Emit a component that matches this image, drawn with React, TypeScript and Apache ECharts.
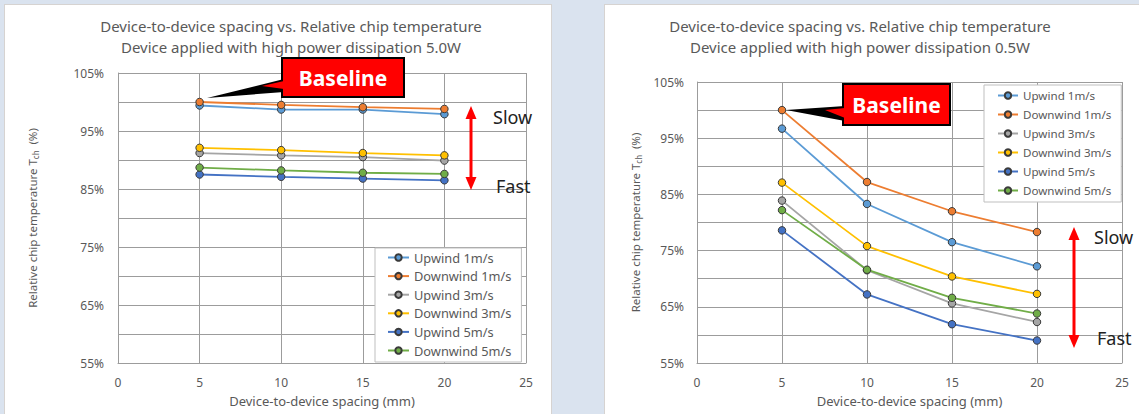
import React, { useEffect, useRef } from "react";
import * as echarts from "echarts";

// ---------- data ----------
const spacing = [5, 10, 15, 20];
const seriesNames = [
  "Upwind 1m/s",
  "Downwind 1m/s",
  "Upwind 3m/s",
  "Downwind 3m/s",
  "Upwind 5m/s",
  "Downwind 5m/s",
];
const seriesColors = ["#5B9BD5", "#ED7D31", "#A5A5A5", "#FFC000", "#4472C4", "#70AD47"];

// 5.0W chart (left)
const w50Upwind1 = [99.4, 98.7, 98.7, 97.9];
const w50Downwind1 = [100, 99.5, 99.1, 98.8];
const w50Upwind3 = [91.2, 90.8, 90.5, 89.9];
const w50Downwind3 = [92.1, 91.7, 91.2, 90.8];
const w50Upwind5 = [87.5, 87.1, 86.8, 86.5];
const w50Downwind5 = [88.7, 88.2, 87.8, 87.6];

// 0.5W chart (right)
const w05Upwind1 = [96.7, 83.3, 76.5, 72.2];
const w05Downwind1 = [100, 87.2, 82.0, 78.3];
const w05Upwind3 = [83.9, 71.5, 65.6, 62.3];
const w05Downwind3 = [87.1, 75.8, 70.4, 67.3];
const w05Upwind5 = [78.6, 67.2, 61.9, 59.0];
const w05Downwind5 = [82.2, 71.6, 66.6, 63.8];

const titleLine1 = "Device-to-device spacing vs. Relative chip temperature";
const titleLeft2 = "Device applied with high power dissipation 5.0W";
const titleRight2 = "Device applied with high power dissipation 0.5W";
const xAxisTitle = "Device-to-device spacing (mm)";
const yAxisTitle = "Relative chip temperature T{sub|ch}\u2002(%)";

const leftSets = [w50Upwind1, w50Downwind1, w50Upwind3, w50Downwind3, w50Upwind5, w50Downwind5];
const rightSets = [w05Upwind1, w05Downwind1, w05Upwind3, w05Downwind3, w05Upwind5, w05Downwind5];

const TEXT = "#595959";
const GRID = "#9c9c9c";
const FONT = "'Noto Sans', 'Noto Sans CJK JP', sans-serif";

function makeSeries(sets: number[][], idx: number) {
  return sets.map((vals, i) => ({
    name: seriesNames[i],
    type: "line",
    xAxisIndex: idx,
    yAxisIndex: idx,
    data: vals.map((v, k) => [spacing[k], v]),
    symbol: "circle",
    symbolSize: 7.5,
    lineStyle: { width: 1.8, color: seriesColors[i] },
    itemStyle: { color: seriesColors[i], borderColor: "#3a3a3a", borderWidth: 1 },
    z: 2 + i,
  }));
}

function xAxis(gridIndex: number) {
  return {
    type: "value",
    gridIndex,
    min: 0,
    max: 25,
    interval: 5,
    name: xAxisTitle,
    nameLocation: "middle",
    nameGap: 31,
    nameTextStyle: { fontSize: 13, color: TEXT, fontFamily: FONT },
    axisLine: { show: true, lineStyle: { color: GRID, width: 1 } },
    axisTick: { show: false },
    axisLabel: { fontSize: 12, color: TEXT, margin: 13, fontFamily: FONT },
    splitLine: { show: true, lineStyle: { color: GRID, width: 1 } },
  };
}

function yAxis(gridIndex: number, nameGap: number, labelMargin: number) {
  return {
    type: "value",
    gridIndex,
    min: 55,
    max: 105,
    interval: 5,
    name: yAxisTitle,
    nameLocation: "middle",
    nameRotate: 90,
    nameGap,
    nameTextStyle: {
      fontSize: 11.5,
      color: TEXT,
      fontFamily: FONT,
      rich: {
        sub: { fontSize: 8, color: TEXT, fontFamily: FONT, verticalAlign: "bottom", padding: [6, 0, 0, 0] },
      },
    },
    axisLine: { show: true, lineStyle: { color: GRID, width: 1 } },
    axisTick: { show: false },
    axisLabel: {
      fontSize: 12,
      color: TEXT,
      margin: labelMargin,
      fontFamily: FONT,
      formatter: (v: number) => ((Math.round(v) - 55) % 10 === 0 ? `${v}%` : ""),
    },
    splitLine: { show: true, lineStyle: { color: GRID, width: 1 } },
  };
}

function callout(bx: number, by: number, bw: number, bh: number, tail: number[][], inner: number[][]) {
  return [
    { type: "polygon", shape: { points: tail }, style: { fill: "#000" }, z: 50 },
    {
      type: "rect",
      shape: { x: bx, y: by, width: bw, height: bh },
      style: { fill: "#ff0000", stroke: "#000", lineWidth: 2 },
      z: 51,
    },
    { type: "polygon", shape: { points: inner }, style: { fill: "#ff0000" }, z: 52 },
    {
      type: "text",
      x: bx + bw / 2,
      y: by + bh / 2,
      style: {
        text: "Baseline",
        fill: "#fff",
        fontSize: 21,
        fontWeight: "bold",
        fontFamily: FONT,
        align: "center",
        verticalAlign: "middle",
      },
      z: 53,
    },
  ];
}

function arrow(x: number, y1: number, y2: number) {
  return [
    { type: "line", shape: { x1: x, y1: y1 + 10, x2: x, y2: y2 - 10 }, style: { stroke: "#ff0000", lineWidth: 3 }, z: 50 },
    { type: "polygon", shape: { points: [[x, y1], [x - 5.5, y1 + 13], [x + 5.5, y1 + 13]] }, style: { fill: "#ff0000" }, z: 50 },
    { type: "polygon", shape: { points: [[x, y2], [x - 5.5, y2 - 13], [x + 5.5, y2 - 13]] }, style: { fill: "#ff0000" }, z: 50 },
  ];
}

function label(text: string, x: number, y: number) {
  return {
    type: "text",
    x,
    y,
    style: { text, fill: "#222", fontSize: 18, fontFamily: FONT, align: "left", verticalAlign: "middle" },
    z: 50,
  };
}

export default function App() {
  const ref = useRef<HTMLDivElement>(null);

  useEffect(() => {
    if (!ref.current) return;
    const chart = echarts.init(ref.current, null, { renderer: "svg" });
    chart.setOption({
      animation: false,
      backgroundColor: "transparent",
      textStyle: { fontFamily: FONT },
      title: [
        {
          text: `${titleLine1}\n${titleLeft2}`,
          left: 291,
          top: 15,
          padding: 0,
          textAlign: "center",
          textStyle: { fontSize: 15, fontWeight: "normal", color: TEXT, lineHeight: 21, fontFamily: FONT },
        },
        {
          text: `${titleLine1}\n${titleRight2}`,
          left: 860,
          top: 15,
          padding: 0,
          textAlign: "center",
          textStyle: { fontSize: 15, fontWeight: "normal", color: TEXT, lineHeight: 21, fontFamily: FONT },
        },
      ],
      grid: [
        { left: 118, top: 73, width: 408, height: 290 },
        { left: 697, top: 82, width: 425, height: 281 },
      ],
      xAxis: [xAxis(0), xAxis(1)],
      yAxis: [yAxis(0, 79, 14), yAxis(1, 55, 13)],
      legend: [
        {
          data: seriesNames,
          orient: "vertical",
          left: 375,
          top: 248,
          padding: [2, 10, 4, 12],
          itemGap: 3.6,
          itemWidth: 21,
          itemHeight: 8,
          backgroundColor: "#fff",
          borderColor: "#bfbfbf",
          borderWidth: 1,
          selectedMode: false,
          textStyle: { fontSize: 12.8, color: TEXT, lineHeight: 15, fontFamily: FONT },
        },
        {
          data: seriesNames,
          orient: "vertical",
          left: 984,
          top: 85,
          padding: [3, 10, 4, 13],
          itemGap: 4,
          itemWidth: 20,
          itemHeight: 8,
          backgroundColor: "#fff",
          borderColor: "#bfbfbf",
          borderWidth: 1,
          selectedMode: false,
          textStyle: { fontSize: 11.6, color: TEXT, lineHeight: 15, fontFamily: FONT },
        },
      ],
      series: [...makeSeries(leftSets, 0), ...makeSeries(rightSets, 1)],
      graphic: [
        ...callout(282, 58, 122, 39, [[207, 98], [284, 79], [284, 92]], [[262, 86], [284, 81], [284, 89]]),
        ...callout(843, 84, 107, 41, [[786, 110], [845, 106], [845, 121]], [[825, 110], [845, 108], [845, 118]]),
        ...arrow(471, 106, 190),
        ...arrow(1074, 227, 348),
        label("Slow", 493, 117),
        label("Fast", 496, 186),
        label("Slow", 1094, 237),
        label("Fast", 1097, 338),
      ],
    });
    return () => chart.dispose();
  }, []);

  return (
    <div style={{ position: "fixed", left: 0, top: 0, width: 1139, height: 414, background: "#dae3ef", overflow: "hidden" }}>
      <div
        style={{ position: "absolute", left: 4, top: 4, width: 548, height: 420, background: "#fff", border: "1px solid #d6d3d1", boxSizing: "border-box" }}
      />
      <div
        style={{ position: "absolute", left: 604, top: 4, width: 545, height: 420, background: "#fff", border: "1px solid #d6d3d1", boxSizing: "border-box" }}
      />
      <div ref={ref} style={{ position: "absolute", left: 0, top: 0, width: 1139, height: 414 }} />
    </div>
  );
}
